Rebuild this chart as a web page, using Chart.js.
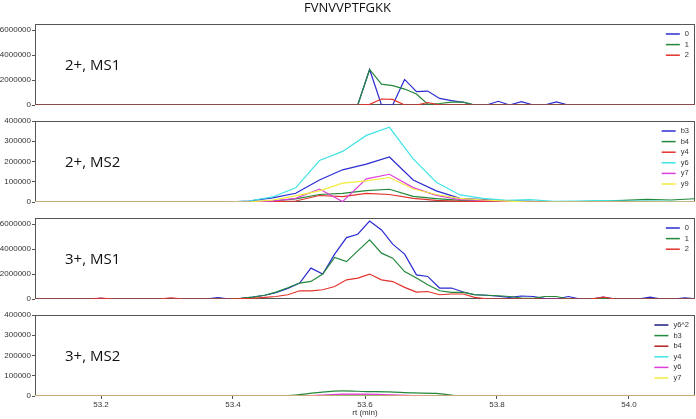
<!DOCTYPE html>
<html>
<head>
<meta charset="utf-8">
<script src="https://cdn.jsdelivr.net/npm/chart.js@4.4.0/dist/chart.umd.min.js"></script>
<style>
html, body { margin: 0; padding: 0; background: #fff; }
#wrap { position: relative; width: 696px; height: 419px; overflow: hidden; }
canvas { position: absolute; left: 0; }
</style>
</head>
<body>
<div id="wrap">
  <canvas id="p1" width="696" height="111" style="top:0px"></canvas>
  <canvas id="p2" width="696" height="95" style="top:113px"></canvas>
  <canvas id="p3" width="696" height="95" style="top:210px"></canvas>
  <canvas id="p4" width="696" height="112" style="top:307px"></canvas>
</div>
<script>
// retention times (min) of MS1 scans and MS2 scans
const rtMs1 = [53.094, 53.111, 53.129, 53.147, 53.164, 53.182, 53.200, 53.218, 53.235, 53.253,
  53.271, 53.288, 53.306, 53.324, 53.341, 53.359, 53.377, 53.395, 53.412, 53.430,
  53.448, 53.465, 53.483, 53.501, 53.518, 53.536, 53.554, 53.572, 53.589, 53.607,
  53.625, 53.642, 53.660, 53.678, 53.695, 53.713, 53.731, 53.749, 53.766, 53.784,
  53.802, 53.819, 53.837, 53.855, 53.872, 53.890, 53.908, 53.926, 53.943, 53.961,
  53.979, 53.996, 54.014, 54.032, 54.049, 54.067, 54.085, 54.103];
const rtMs2 = [53.069, 53.105, 53.140, 53.176, 53.211, 53.247, 53.282, 53.318, 53.353, 53.389,
  53.424, 53.460, 53.495, 53.531, 53.566, 53.602, 53.637, 53.673, 53.708, 53.744,
  53.779, 53.815, 53.850, 53.886, 53.921, 53.957, 53.992, 54.028, 54.063, 54.099,
  54.134];

// 2+, MS1 isotopes
const z2ms1_0 = [0,0,0,0,0,0,0,0,0,0, 0,0,0,0,0,0,0,0,0,0,
  0,0,0,0,0,0,0,0,0,2850000, 0,0,2050000,1070000,1120000,530000,350000,220000,0,0,
  300000,0,270000,0,0,250000,0,0,0,0, 0,0,0,0,0,0,0,0];
const z2ms1_1 = [0,0,0,0,0,0,0,0,0,0, 0,0,0,0,0,0,0,0,0,0,
  0,0,0,0,0,0,0,0,0,2850000, 1680000,1550000,1280000,880000,60000,120000,230000,230000,0,0,
  0,0,0,0,0,0,0,0,0,0, 0,0,0,0,0,0,0,0];
const z2ms1_2 = [0,0,0,0,0,0,0,0,0,0, 0,0,0,0,0,0,0,0,0,0,
  0,0,0,0,0,0,0,0,0,50000, 480000,450000,0,0,200000,0,0,0,0,0,
  0,0,0,0,0,0,0,0,0,0, 0,0,0,0,0,0,0,0];

// 2+, MS2 fragments
const z2ms2_b3 = [0,0,0,0,0,0,0,0,0,0, 5000,20000,43000,109000,159000,187000,222000,109000,55000,18000,
  12000,6000,3000,0,0,0,0,0,0,0, 0];
const z2ms2_b4 = [0,0,0,0,0,0,0,0,0,0, 2000,5000,15000,37000,43000,56000,63000,28000,17000,8000,
  5000,3000,2000,2000,2000,5000,8000,13000,10000,16000, 16000];
const z2ms2_y4 = [0,0,0,0,0,0,0,0,0,0, 0,2000,5000,32000,27000,43000,37000,18000,8000,3000,
  2000,0,0,0,0,0,0,0,0,0, 0];
const z2ms2_y6 = [0,0,0,0,0,0,0,0,0,0, 5000,25000,70000,205000,250000,329000,369000,213000,98000,35000,
  18000,8000,12000,3000,4000,7000,5000,4000,3000,0, 0];
const z2ms2_y7 = [0,0,0,0,0,0,0,0,0,0, 0,5000,18000,64000,2000,114000,137000,71000,33000,12000,
  8000,3000,0,0,0,0,0,0,0,0, 0];
const z2ms2_y9 = [0,0,0,0,0,0,0,0,0,0, 0,10000,30000,55000,93000,104000,121000,64000,37000,18000,
  10000,4000,0,0,0,0,0,0,0,0, 0];

// 3+, MS1 isotopes
const z3ms1_0 = [0,0,0,0,0,0,50000,0,0,0, 0,0,0,0,0,0,120000,0,50000,150000,
  300000,500000,850000,1280000,2480000,2000000,3600000,4930000,5200000,6260000,
  5540000,4400000,3600000,1940000,1810000,880000,880000,560000,340000,300000,
  220000,130000,240000,200000,50000,0,200000,0,0,150000, 0,0,0,150000,0,0,100000,0];
const z3ms1_1 = [0,0,0,0,0,0,0,0,0,0, 0,0,0,0,0,0,0,0,50000,150000,
  300000,550000,900000,1280000,1410000,2000000,3330000,3000000,3860000,4740000,
  3680000,3280000,2200000,1680000,1140000,660000,530000,530000,350000,300000,
  260000,200000,80000,50000,200000,200000,0,0,0,80000, 0,0,0,0,0,0,0,0];
const z3ms1_2 = [0,0,0,0,0,0,80000,0,0,0, 0,0,100000,0,0,0,0,0,30000,60000,
  130000,200000,340000,660000,660000,740000,1000000,1540000,1680000,2000000,
  1540000,1400000,930000,560000,600000,340000,400000,400000,130000,20000,
  0,0,0,0,0,0,0,0,0,150000, 0,0,0,0,0,0,0,0];

// 3+, MS2 fragments
const z3ms2_y6z2 = [0,0,0,0,0,0,0,0,0,0, 0,0,0,1000,2000,2000,1000,0,0,0, 0,0,0,0,0,0,0,0,0,0, 0];
const z3ms2_b3 = [0,0,0,0,0,0,0,0,0,0, 0,0,5000,18000,25000,22000,20000,15000,13000,0, 0,0,0,0,0,0,0,0,0,0, 0];
const z3ms2_b4 = [0,0,0,0,0,0,0,0,0,0, 0,0,0,2000,5000,5000,3000,0,0,0, 0,0,0,0,0,0,0,0,0,0, 0];
const z3ms2_y4 = [0,0,0,0,0,0,0,0,0,0, 0,0,0,0,0,0,0,0,0,0, 0,0,0,0,0,0,0,0,0,0, 0];
const z3ms2_y6 = [0,0,0,0,0,0,0,0,0,0, 0,0,0,4000,9000,9000,6000,2000,0,0, 0,0,0,0,0,0,0,0,0,0, 0];
const z3ms2_y7 = [0,0,0,0,0,0,0,0,0,0, 0,0,0,0,0,0,0,0,0,0, 0,0,0,0,0,0,0,0,0,0, 0];

// axis ticks
const xTicks = [53.2, 53.4, 53.6, 53.8, 54.0];
const ms1Ticks = [0, 2000000, 4000000, 6000000];
const ms2Ticks = [0, 100000, 200000, 300000, 400000];

const C = {
  blue: '#2b2bd2', green: '#23883a', red: '#e4322c', cyan: '#40e4e4',
  magenta: '#de3edc', yellow: '#f2ec3a', navy: '#1c1c80', darkred: '#b22222'
};
const FONT = '"Liberation Sans", Arial, sans-serif';

// frame round the plot area, under the lines
const frame = {
  id: 'frame',
  beforeDatasetsDraw(chart) {
    const { ctx, chartArea: a } = chart;
    ctx.save();
    ctx.strokeStyle = '#555';
    ctx.lineWidth = 1;
    ctx.strokeRect(Math.round(a.left) + 0.5, Math.round(a.top) + 0.5,
      Math.round(a.right - a.left) - 1, Math.round(a.bottom - a.top) - 1);
    ctx.restore();
  }
};

// "2+, MS1" style tag and small legend in top right corner
const panelText = {
  id: 'panelText',
  afterDatasetsDraw(chart, args, opts) {
    const { ctx, chartArea: a } = chart;
    ctx.save();
    ctx.font = '15px "Open Sans", sans-serif';
    ctx.fillStyle = '#111';
    ctx.textBaseline = 'middle';
    ctx.fillText(opts.tag, a.left + 30, (a.top + a.bottom) / 2 + 1);

    const sets = chart.data.datasets;
    ctx.font = '7.5px ' + FONT;
    const w = Math.max(...sets.map(d => ctx.measureText(d.label).width));
    const tx = a.right - 6 - w;
    sets.forEach((d, i) => {
      const y = a.top + 10 + i * 10.6;
      ctx.strokeStyle = d.borderColor;
      ctx.lineWidth = 1.5;
      ctx.beginPath();
      ctx.moveTo(tx - 19, y);
      ctx.lineTo(tx - 5, y);
      ctx.stroke();
      ctx.fillStyle = '#333';
      ctx.fillText(d.label, tx, y);
    });
    ctx.restore();
  }
};

function makePanel(id, rt, series, yMax, yTicks, cfg) {
  const n = series.length;
  const datasets = series.map((s, i) => ({
    label: s.label,
    data: rt.map((x, k) => ({ x: x, y: s.values[k] })),
    borderColor: s.color,
    borderWidth: 1.2,
    pointRadius: 0,
    tension: 0,
    cubicInterpolationMode: cfg.smooth ? 'monotone' : 'default',
    fill: false,
    order: n - i
  }));
  return new Chart(document.getElementById(id), {
    type: 'line',
    data: { datasets },
    plugins: [frame, panelText],
    options: {
      responsive: false,
      animation: false,
      events: [],
      devicePixelRatio: 1,
      layout: { padding: cfg.padding },
      scales: {
        x: {
          type: 'linear',
          min: 53.1,
          max: 54.1,
          display: !!cfg.showX,
          afterBuildTicks: s => { s.ticks = xTicks.map(v => ({ value: v })); },
          afterFit: s => { if (cfg.showX) s.height = 23; },
          grid: { drawOnChartArea: false, tickLength: 3, color: '#555' },
          border: { display: false },
          ticks: {
            padding: 1,
            color: '#333',
            font: { family: FONT, size: 8 },
            maxRotation: 0,
            callback: v => Number(v).toFixed(1)
          },
          title: {
            display: !!cfg.showX,
            text: 'rt (min)',
            color: '#333',
            font: { family: FONT, size: 8 },
            padding: { top: 0, bottom: 1 }
          }
        },
        y: {
          min: 0,
          max: yMax,
          afterBuildTicks: s => { s.ticks = yTicks.map(v => ({ value: v })); },
          afterFit: s => { s.width = 35; },
          grid: { drawOnChartArea: false, tickLength: 3, color: '#555' },
          border: { display: false },
          ticks: {
            padding: 1,
            color: '#333',
            font: { family: FONT, size: 8 },
            callback: v => String(v)
          }
        }
      },
      plugins: {
        legend: { display: false },
        tooltip: { enabled: false },
        title: cfg.title ? {
          display: true,
          text: cfg.title,
          color: '#111',
          font: { family: '"Open Sans", sans-serif', size: 13, weight: 'normal', lineHeight: 1.2 },
          padding: { top: 0, bottom: 8.4 }
        } : { display: false },
        panelText: { tag: cfg.tag }
      }
    }
  });
}

makePanel('p1', rtMs1, [
  { label: '0', color: C.blue, values: z2ms1_0 },
  { label: '1', color: C.green, values: z2ms1_1 },
  { label: '2', color: C.red, values: z2ms1_2 }
], 6500000, ms1Ticks, { tag: '2+, MS1', title: 'FVNVVPTFGKK', padding: { top: 0, bottom: 6, left: 0, right: 1 } });

makePanel('p2', rtMs2, [
  { label: 'b3', color: C.blue, values: z2ms2_b3 },
  { label: 'b4', color: C.green, values: z2ms2_b4 },
  { label: 'y4', color: C.red, values: z2ms2_y4 },
  { label: 'y6', color: C.cyan, values: z2ms2_y6 },
  { label: 'y7', color: C.magenta, values: z2ms2_y7 },
  { label: 'y9', color: C.yellow, values: z2ms2_y9 }
], 400000, ms2Ticks, { tag: '2+, MS2', padding: { top: 8, bottom: 6, left: 0, right: 1 } });

makePanel('p3', rtMs1, [
  { label: '0', color: C.blue, values: z3ms1_0 },
  { label: '1', color: C.green, values: z3ms1_1 },
  { label: '2', color: C.red, values: z3ms1_2 }
], 6500000, ms1Ticks, { tag: '3+, MS1', padding: { top: 8, bottom: 6, left: 0, right: 1 } });

makePanel('p4', rtMs2, [
  { label: 'y6^2', color: C.navy, values: z3ms2_y6z2 },
  { label: 'b3', color: C.green, values: z3ms2_b3 },
  { label: 'b4', color: C.darkred, values: z3ms2_b4 },
  { label: 'y4', color: C.cyan, values: z3ms2_y4 },
  { label: 'y6', color: C.magenta, values: z3ms2_y6 },
  { label: 'y7', color: C.yellow, values: z3ms2_y7 }
], 400000, ms2Ticks, { tag: '3+, MS2', showX: true, smooth: true, padding: { top: 8, bottom: 0, left: 0, right: 1 } });
</script>
</body>
</html>
